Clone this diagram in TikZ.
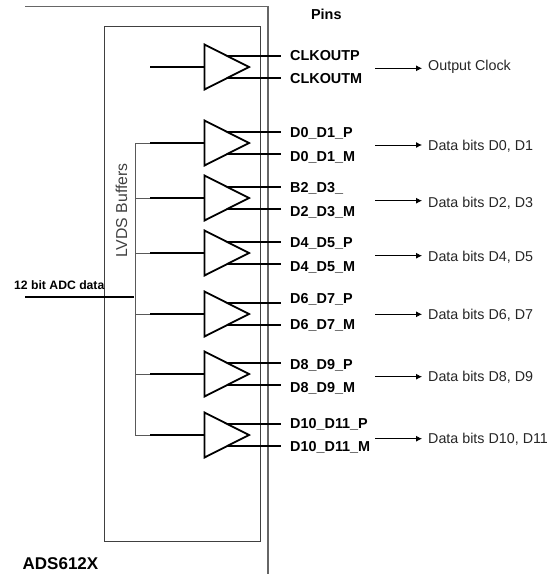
\documentclass[tikz,border=0pt]{standalone}
\usepackage{fontspec}
\setmainfont{Liberation Sans}
\usetikzlibrary{shapes.geometric,arrows.meta}
\tikzset{
  buf/.style={draw=black,line width=1.8pt,isosceles triangle,isosceles triangle apex angle=53.6,
    isosceles triangle stretches,minimum width=45pt,minimum height=44.5pt,inner sep=0pt,outer sep=0pt,anchor=apex},
  chipline/.style={draw=black!60,line width=1.1pt},
  boxline/.style={draw=black!75,line width=0.8pt},
  busline/.style={draw=black!65,line width=0.8pt},
  thickline/.style={draw=black,line width=2pt},
  pinlabel/.style={font=\fontsize{14.4}{16}\selectfont\bfseries,anchor=base west,inner sep=0pt},
  sidelabel/.style={font=\fontsize{14.3}{16}\selectfont,text=black!85,anchor=base west,inner sep=0pt},
  outarrow/.style={draw=black,line width=0.8pt,-{Latex[length=6pt,width=6pt]}}
}
\begin{document}
\begin{tikzpicture}[x=1pt,y=-1pt]
\useasboundingbox (0,0) rectangle (556,574);
% chip outline
\coordinate (chipA) at (25,6.5);
\coordinate (chipB) at (268,6.5);
\coordinate (chipC) at (268,574);
\draw[chipline] (chipA) -- (chipB) -- (chipC);
\node[boxline,draw,rectangle,minimum width=155.5pt,minimum height=515pt,inner sep=0pt,outer sep=0pt,anchor=north west] (lvds) at (104.5,26) {};
\node[font=\fontsize{15.8}{16}\selectfont,text=black!75,rotate=90,inner sep=0pt,anchor=base] (lvdslabel) at (127,210.5) {LVDS Buffers};
\node[font=\fontsize{14.4}{16}\selectfont\bfseries,inner sep=0pt,anchor=base] (pins) at (326.3,19) {Pins};
\node[font=\fontsize{17}{20}\selectfont\bfseries,anchor=base west,inner sep=0pt] (chip) at (22.5,569) {ADS612X};
\node[font=\fontsize{12.2}{14}\selectfont\bfseries,anchor=base west,inner sep=0pt] (adc) at (14,289) {12 bit ADC data};
% buffers
\foreach \n/\y in {c/67,a/143,b/198,d/253,e/314,f/374,g/435}{
  \node[buf] (t\n) at (249,\y) {};
  \coordinate (in\n) at (150,\y);
  \coordinate (top\n) at (281,\y-11);
  \coordinate (bot\n) at (281,\y+11);
  \draw[thickline] (in\n) -- (t\n.lower side);
  \draw[thickline] (t\n.left side) -- (top\n |- t\n.left side);
  \draw[thickline] (t\n.right side) -- (bot\n |- t\n.right side);
}
% bus
\coordinate (busTop) at (135,143);
\coordinate (busBot) at (135,435);
\coordinate (adcStart) at (25,297);
\coordinate (adcEnd) at (134,297);
\draw[busline] (busTop) -- (busBot);
\foreach \n in {a,b,d,e,f,g}{
  \draw[busline] (busTop |- in\n) -- (in\n);
}
\draw[thickline] (adcStart) -- (adcEnd);
% pin labels
\foreach \name/\y/\t in {pa/60/CLKOUTP,pb/83.3/CLKOUTM,pc/137.7/D0\_D1\_P,pd/161/D0\_D1\_M,pe/192.7/B2\_D3\_,pf/216/D2\_D3\_M,pg/247.7/D4\_D5\_P,ph/271/D4\_D5\_M,pi/303/D6\_D7\_P,pj/329.7/D6\_D7\_M,pk/369/D8\_D9\_P,pl/392.3/D8\_D9\_M,pm/428/D10\_D11\_P,pn/451.3/D10\_D11\_M}{
  \node[pinlabel] (\name) at (290,\y) {\t};
}
% side labels with arrows
\foreach \name/\y/\ly/\t in {sa/68.3/70/Output Clock,sb/145/150/{Data bits D0, D1},sc/200.7/207.7/{Data bits D2, D3},sd/255.7/261/{Data bits D4, D5},se/314.3/319/{Data bits D6, D7},sf/376.7/381.7/{Data bits D8, D9},sg/438.7/443.3/{Data bits D10, D11}}{
  \node[sidelabel] (\name) at (428,\ly) {\t};
  \coordinate (\name s) at (375,\y);
  \coordinate (\name e) at (422,\y);
  \draw[outarrow] (\name s) -- (\name e);
}
\end{tikzpicture}
\end{document}
